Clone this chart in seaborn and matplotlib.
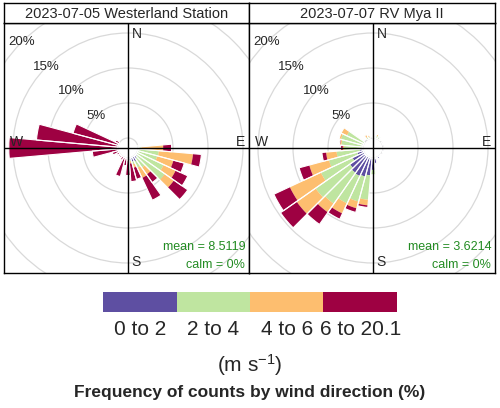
import numpy as np
import matplotlib
matplotlib.use("Agg")
import matplotlib.pyplot as plt
from matplotlib.patches import Wedge, Circle
from matplotlib.colors import ListedColormap
import seaborn as sns

sns.set_style("white")
plt.rcParams['font.family'] = ['Liberation Sans', 'DejaVu Sans']
plt.rcParams['mathtext.fontset'] = 'custom'
plt.rcParams['mathtext.rm'] = 'Liberation Sans'
plt.rcParams['mathtext.it'] = 'Liberation Sans:italic'

# wind direction sectors (degrees, 10 deg bins)
directions = list(range(10, 370, 10))
speed_labels = ['0 to 2', '2 to 4', '4 to 6', '6 to 20.1']
speed_colors = ['#5E4FA2', '#BFE5A0', '#FDBE6F', '#9E0142']
ring_pcts = [5, 10, 15, 20]

titles = ['2023-07-05 Westerland Station', '2023-07-07 RV Mya II']
mean_speed = [8.5119, 3.6214]
calm_pct = [0, 0]

# Westerland: % of counts per sector, rows = 10-90, 100-180, 190-270, 280-360
west_0_2 = [0, 0, 0, 0, 0, 0, 0, 0, 0,
            0, 0, 0.1, 0.2, 0.4, 0.7, 0.6, 0.3, 0.2,
            0.1, 0, 0, 0, 0, 0, 0, 0, 0,
            0, 0, 0, 0, 0, 0, 0, 0, 0]
west_2_4 = [0, 0, 0, 0, 0, 0, 0, 0.1, 0.5,
            3.0, 2.9, 4.1, 4.8, 1.6, 1.0, 0.4, 0.2, 0.1,
            0, 0, 0, 0, 0, 0, 0, 0, 0,
            0, 0, 0, 0, 0, 0, 0, 0, 0]
west_4_6 = [0, 0, 0, 0, 0, 0, 0, 0.2, 3.1,
            4.9, 2.4, 1.9, 1.6, 1.2, 1.6, 0.5, 0.3, 0.1,
            0.1, 0.1, 0, 0, 0, 0, 0, 0, 0,
            0, 0, 0, 0, 0, 0, 0, 0, 0]
west_6_20 = [0, 0, 0, 0, 0, 0, 0, 0, 1.2,
             1.2, 1.6, 1.9, 2.4, 1.4, 3.5, 1.7, 2.6, 2.1,
             0.9, 2.7, 0.5, 0.3, 0.3, 0.4, 0.9, 3.7, 15.6,
             11.7, 6.7, 0.6, 0, 0, 0, 0, 0, 0]

# RV Mya II
mya_0_2 = [0, 0, 0.1, 0.1, 0, 0.1, 0.2, 0, 0.1,
           0, 0.2, 0, 0.1, 0.2, 0.3, 0.2, 0.8, 1.7,
           2.5, 2.8, 3.0, 2.9, 2.6, 1.8, 0.9, 0.5, 0.1,
           0.1, 0.1, 0.1, 0, 0, 0, 0, 0, 0]
mya_2_4 = [0.2, 0.4, 0.3, 0, 0, 0, 0, 0, 0,
           0, 0, 0, 0, 0, 0, 0, 0, 0.7,
           3.5, 3.7, 4.3, 5.4, 6.0, 5.0, 4.2, 3.3, 2.6,
           3.0, 3.2, 2.6, 0, 0, 0.3, 0.2, 0, 0.1]
mya_4_6 = [0, 0.2, 0, 0, 0, 0, 0, 0, 0,
           0, 0, 0, 0, 0, 0, 0, 0, 0,
           0.8, 1.0, 1.6, 1.5, 3.3, 4.9, 2.9, 1.5, 0.2,
           0.2, 0.3, 0.9, 0, 0, 0.4, 0.3, 0, 0]
mya_6_20 = [0, 0, 0, 0, 0, 0, 0, 0, 0,
            0, 0, 0, 0, 0, 0, 0, 0, 0,
            0.3, 0.6, 0.9, 2.1, 2.8, 2.5, 1.5, 0.6, 0.3,
            0.1, 0, 0, 0, 0, 0, 0, 0, 0]

panels = [[west_0_2, west_2_4, west_4_6, west_6_20],
          [mya_0_2, mya_2_4, mya_4_6, mya_6_20]]

PX = 7.0          # pixels per percent
HOLE = 10 / PX    # empty hole in the middle


def draw_rose(ax, bins, mean, calm):
    for p in [0] + ring_pcts:
        ax.add_patch(Circle((0, 0), HOLE + p, fill=False, ec='#D9D9D9', lw=0.9, zorder=1))
    for j, d in enumerate(directions):
        theta = 90 - d
        base = HOLE
        for k in range(len(bins)):
            v = bins[k][j]
            if v > 0:
                ax.add_patch(Wedge((0, 0), base + v, theta - 5, theta + 5, width=v,
                                   fc=speed_colors[k], ec='none', zorder=2))
            base += v
        if base > HOLE:
            ax.add_patch(Wedge((0, 0), base, theta - 5, theta + 5, width=base - HOLE,
                               fc='none', ec='white', lw=0.8, zorder=3))
    ax.axhline(0, color='black', lw=1, zorder=4)
    ax.axvline(0, color='black', lw=1, zorder=4)
    for p in ring_pcts:
        r = (HOLE + p) / np.sqrt(2)
        ax.text(-r, r, f'{p}%', ha='center', va='center', fontsize=9.5, zorder=5)
    ylo, yhi = ax.get_ylim()
    xlo, xhi = ax.get_xlim()
    ax.text(0.5, yhi - 0.5, 'N', ha='left', va='top', fontsize=10, zorder=5)
    ax.text(0.5, ylo + 0.5, 'S', ha='left', va='bottom', fontsize=10, zorder=5)
    ax.text(xlo + 0.8, -0.1, 'W', ha='left', va='bottom', fontsize=10, zorder=5)
    ax.text(xhi - 0.5, -0.1, 'E', ha='right', va='bottom', fontsize=10, zorder=5)
    ax.text(0.985, 0.104, f'mean = {mean}', transform=ax.transAxes, ha='right', va='center',
            color='forestgreen', fontsize=9, zorder=5)
    ax.text(0.985, 0.032, f'calm = {calm}%', transform=ax.transAxes, ha='right', va='center',
            color='forestgreen', fontsize=9, zorder=5)


W, H = 500, 408
fig = plt.figure(figsize=(W / 100, H / 100), dpi=100)

frames = [(4, 245), (249, 246)]
for i, (x0, w) in enumerate(frames):
    ax = fig.add_axes([x0 / W, 135 / H, w / W, 250 / H])
    ax.set_xlim(-124 / PX, (w - 124) / PX)
    ax.set_ylim(-125 / PX, 125 / PX)
    ax.set_xticks([])
    ax.set_yticks([])
    for s in ax.spines.values():
        s.set_visible(True)
        s.set_color('black')
        s.set_linewidth(1)
    draw_rose(ax, panels[i], mean_speed[i], calm_pct[i])

    sax = fig.add_axes([x0 / W, 385 / H, w / W, 20 / H])
    sax.set_xticks([])
    sax.set_yticks([])
    for s in sax.spines.values():
        s.set_visible(True)
        s.set_color('black')
        s.set_linewidth(1)
    sax.text(0.5, 0.45, titles[i], ha='center', va='center', fontsize=10.5,
             transform=sax.transAxes)

# speed key
lax = fig.add_axes([103 / W, (H - 312) / H, 294 / W, 20 / H])
sns.heatmap(np.arange(len(speed_labels)).reshape(1, -1), cmap=ListedColormap(speed_colors),
            cbar=False, xticklabels=speed_labels, yticklabels=False, ax=lax)
lax.tick_params(axis='x', length=0, pad=6, labelsize=15, rotation=0)

fig.text(0.5, (H - 365) / H, '(m s$^{-1}$)', ha='center', va='center', fontsize=15)
fig.text(0.5, (H - 393) / H, 'Frequency of counts by wind direction (%)', ha='center',
         va='center', fontsize=12.5, fontweight='bold')

fig.savefig('out.png', dpi=100)
